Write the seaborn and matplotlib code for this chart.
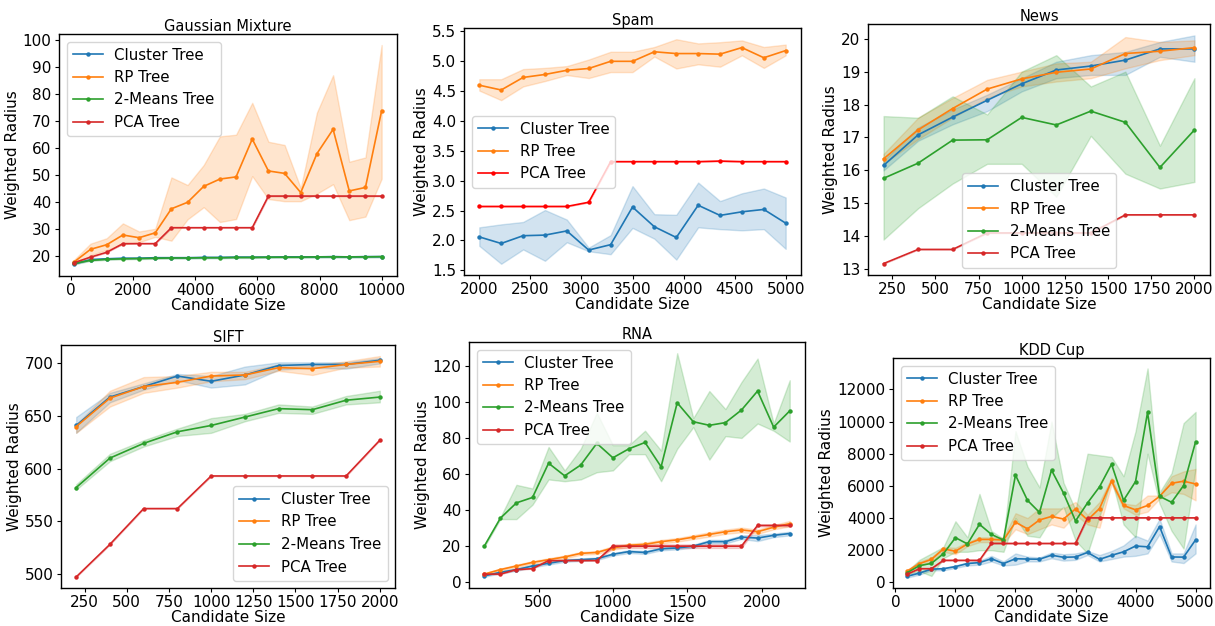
import numpy as np
import pandas as pd
import matplotlib
matplotlib.use("Agg")
import matplotlib.pyplot as plt
from matplotlib.ticker import MultipleLocator
import seaborn as sns

# ---------------- data ----------------
SERIES = ["Cluster Tree", "RP Tree", "2-Means Tree", "PCA Tree"]
TITLES = ["Gaussian Mixture", "Spam", "News", "SIFT", "RNA", "KDD Cup"]
XLABEL = "Candidate Size"
YLABEL = "Weighted Radius"

# Gaussian Mixture
gm_x = [100, 621, 1142, 1663, 2184, 2705, 3226, 3747, 4268, 4789,
        5310, 5831, 6352, 6873, 7394, 7915, 8436, 8957, 9478, 10000]
gm_cluster = [17.0, 18.6, 18.9, 19.1, 19.1, 19.3, 19.3, 19.3, 19.4, 19.4,
              19.5, 19.5, 19.5, 19.6, 19.6, 19.6, 19.7, 19.6, 19.7, 19.7]
gm_cluster_lo = [16.8, 18.4, 18.7, 18.9, 18.9, 19.1, 19.1, 19.1, 19.2, 19.2,
                 19.3, 19.3, 19.3, 19.4, 19.4, 19.4, 19.5, 19.4, 19.5, 19.5]
gm_cluster_hi = [17.2, 18.8, 19.1, 19.3, 19.3, 19.5, 19.5, 19.5, 19.6, 19.6,
                 19.7, 19.7, 19.7, 19.8, 19.8, 19.8, 19.9, 19.8, 19.9, 19.9]
gm_rp = [17.8, 22.4, 24.1, 27.7, 26.7, 28.5, 37.4, 39.8, 45.7, 48.4,
         49.2, 63.2, 51.4, 50.5, 43.4, 57.8, 66.8, 44.0, 45.3, 73.7]
gm_rp_lo = [16.6, 20.2, 22.2, 24.2, 25.0, 27.0, 25.6, 33.5, 38.0, 32.5,
            33.6, 49.5, 41.0, 40.2, 40.2, 43.0, 46.5, 33.2, 34.5, 48.5]
gm_rp_hi = [18.6, 24.5, 26.5, 32.0, 29.0, 30.0, 49.0, 46.2, 53.6, 64.2,
            64.8, 76.6, 62.2, 61.0, 45.0, 73.0, 86.8, 54.8, 56.4, 98.0]
gm_km = [17.2, 18.3, 18.7, 18.9, 19.0, 19.1, 19.2, 19.2, 19.3, 19.3,
         19.4, 19.4, 19.5, 19.5, 19.5, 19.6, 19.6, 19.6, 19.6, 19.7]
gm_km_lo = [17.0, 18.1, 18.5, 18.7, 18.8, 18.9, 19.0, 19.0, 19.1, 19.1,
            19.2, 19.2, 19.3, 19.3, 19.3, 19.4, 19.4, 19.4, 19.4, 19.5]
gm_km_hi = [17.4, 18.5, 18.9, 19.1, 19.2, 19.3, 19.4, 19.4, 19.5, 19.5,
            19.6, 19.6, 19.7, 19.7, 19.7, 19.8, 19.8, 19.8, 19.8, 19.9]
gm_pca = [17.5, 19.5, 21.3, 24.5, 24.5, 24.5, 30.4, 30.4, 30.4, 30.4,
          30.4, 30.4, 42.1, 42.1, 42.1, 42.1, 42.1, 42.1, 42.1, 42.1]

# Spam
sp_x = [2000, 2214, 2429, 2643, 2857, 3071, 3286, 3500, 3714, 3929,
        4143, 4357, 4571, 4786, 5000]
sp_cluster = [2.06, 1.95, 2.08, 2.09, 2.16, 1.84, 1.93, 2.56, 2.23, 2.05,
              2.59, 2.42, 2.48, 2.52, 2.29]
sp_cluster_lo = [1.91, 1.61, 1.85, 1.66, 1.97, 1.82, 1.77, 2.21, 2.03, 1.68,
                 2.22, 2.19, 2.17, 2.19, 1.86]
sp_cluster_hi = [2.22, 2.27, 2.31, 2.51, 2.35, 1.88, 2.09, 2.91, 2.44, 2.43,
                 2.97, 2.66, 2.79, 2.87, 2.72]
sp_rp = [4.60, 4.52, 4.73, 4.78, 4.85, 4.88, 5.00, 5.00, 5.16, 5.13,
         5.13, 5.12, 5.23, 5.06, 5.18]
sp_rp_lo = [4.51, 4.35, 4.58, 4.67, 4.77, 4.72, 4.82, 4.82, 5.08, 4.88,
            4.95, 4.91, 5.10, 4.89, 5.10]
sp_rp_hi = [4.70, 4.70, 4.87, 4.89, 4.92, 5.03, 5.16, 5.16, 5.24, 5.37,
            5.30, 5.32, 5.35, 5.24, 5.28]
sp_pca = [2.57, 2.57, 2.57, 2.57, 2.57, 2.64, 3.32, 3.32, 3.32, 3.32,
          3.32, 3.33, 3.32, 3.32, 3.32]

# News
nw_x = [200, 400, 600, 800, 1000, 1200, 1400, 1600, 1800, 2000]
nw_cluster = [16.15, 17.08, 17.62, 18.13, 18.63, 19.05, 19.17, 19.35, 19.69, 19.69]
nw_cluster_lo = [16.0, 16.9, 17.4, 17.8, 18.4, 18.8, 18.9, 18.9, 19.45, 19.3]
nw_cluster_hi = [16.3, 17.3, 17.85, 18.3, 18.8, 19.3, 19.5, 19.6, 19.9, 20.1]
nw_rp = [16.35, 17.23, 17.88, 18.47, 18.78, 18.98, 19.08, 19.55, 19.62, 19.73]
nw_rp_lo = [16.2, 16.95, 17.6, 18.2, 18.55, 18.7, 18.8, 19.1, 19.35, 19.5]
nw_rp_hi = [16.5, 17.6, 18.2, 18.75, 19.0, 19.25, 19.3, 20.05, 19.9, 19.95]
nw_km = [15.76, 16.22, 16.92, 16.93, 17.61, 17.38, 17.80, 17.46, 16.09, 17.23]
nw_km_lo = [13.9, 14.85, 15.6, 16.2, 16.2, 15.2, 17.05, 15.9, 15.45, 15.65]
nw_km_hi = [17.65, 17.6, 18.25, 17.7, 19.0, 19.5, 18.55, 19.0, 16.75, 18.8]
nw_pca = [13.17, 13.6, 13.6, 14.1, 14.1, 14.1, 14.1, 14.65, 14.65, 14.65]

# SIFT
sf_x = [200, 400, 600, 800, 1000, 1200, 1400, 1600, 1800, 2000]
sf_cluster = [641, 668, 678, 688, 683, 689, 698, 699, 699, 703]
sf_cluster_lo = [634, 663, 675, 684, 677, 680, 694, 696, 695, 700]
sf_cluster_hi = [649, 672, 681, 690, 688, 697, 701, 701, 701, 705]
sf_rp = [640, 667, 678, 682, 688, 689, 696, 695, 699, 702]
sf_rp_lo = [634, 659, 672, 677, 683, 685, 693, 689, 696, 697]
sf_rp_hi = [642, 674, 687, 688, 692, 692, 699, 698, 702, 707]
sf_km = [582, 610, 624, 635, 641, 649, 657, 656, 665, 668]
sf_km_lo = [580, 607, 621, 631, 634, 645, 653, 652, 661, 663]
sf_km_hi = [585, 614, 627, 638, 648, 652, 661, 659, 669, 674]
sf_pca = [497, 528, 562, 562, 593, 593, 593, 593, 593, 627]

# RNA
rn_x = [135, 243, 351, 459, 567, 675, 783, 891, 999, 1107,
        1215, 1323, 1431, 1539, 1647, 1755, 1863, 1971, 2079, 2187]
rn_cluster = [3.5, 5.5, 7.0, 9.0, 10.5, 12.0, 12.5, 13.0, 15.5, 17.0,
              16.5, 18.5, 19.0, 20.0, 22.5, 22.5, 25.0, 24.5, 26.0, 27.0]
rn_cluster_lo = [3.0, 5.0, 6.3, 8.3, 9.8, 11.3, 11.8, 12.3, 14.8, 16.2,
                 15.7, 17.7, 18.2, 19.2, 21.5, 21.5, 24.0, 22.8, 25.0, 26.0]
rn_cluster_hi = [4.0, 6.0, 7.7, 9.7, 11.2, 12.7, 13.2, 13.7, 16.2, 17.8,
                 17.3, 19.3, 19.8, 20.8, 23.5, 23.5, 26.0, 26.2, 27.0, 28.0]
rn_rp = [4.5, 7.0, 9.0, 11.0, 12.5, 14.0, 16.0, 16.5, 19.0, 20.5,
         21.0, 22.5, 23.5, 25.0, 26.5, 28.0, 29.0, 28.0, 30.5, 32.5]
rn_rp_lo = [4.0, 6.4, 8.3, 10.3, 11.7, 13.2, 15.2, 15.7, 18.0, 19.6,
            20.0, 21.5, 22.5, 23.9, 25.3, 26.8, 27.7, 26.8, 29.3, 31.0]
rn_rp_hi = [5.0, 7.6, 9.7, 11.7, 13.3, 14.8, 16.8, 17.3, 20.0, 21.4,
            22.0, 23.5, 24.5, 26.1, 27.7, 29.2, 30.3, 29.2, 31.7, 34.0]
rn_km = [20.0, 35.5, 44.0, 47.0, 66.0, 59.0, 65.0, 77.0, 69.0, 74.0,
         77.5, 64.0, 99.5, 89.0, 87.0, 88.5, 95.5, 106.0, 86.0, 95.0]
rn_km_lo = [19.5, 35.0, 35.0, 43.0, 57.0, 56.0, 57.0, 61.0, 62.0, 71.0,
            71.0, 56.0, 74.0, 86.0, 68.0, 81.0, 80.0, 88.0, 84.0, 78.0]
rn_km_hi = [20.5, 36.0, 54.0, 52.0, 75.0, 62.0, 74.0, 94.0, 76.0, 76.0,
            84.0, 73.0, 127.0, 91.0, 106.0, 96.0, 111.0, 124.0, 88.0, 112.0]
rn_pca = [4.5, 4.5, 7.0, 7.5, 12.0, 12.0, 12.0, 12.0, 20.0, 20.0,
          20.0, 20.0, 20.0, 20.0, 20.0, 20.0, 20.0, 31.5, 31.5, 31.5]
rn_pca_lo = [4.5, 4.5, 7.0, 7.5, 12.0, 12.0, 12.0, 12.0, 19.0, 19.0,
             19.0, 19.0, 19.0, 19.0, 19.0, 19.0, 19.0, 31.0, 31.0, 31.0]
rn_pca_hi = [4.5, 4.5, 7.0, 7.5, 12.0, 12.0, 12.0, 12.0, 21.0, 21.0,
             21.0, 21.0, 21.0, 21.0, 21.0, 21.0, 21.0, 32.0, 32.0, 32.0]

# KDD Cup
kd_x = [200, 400, 600, 800, 1000, 1200, 1400, 1600, 1800, 2000,
        2200, 2400, 2600, 2800, 3000, 3200, 3400, 3600, 3800, 4000,
        4200, 4400, 4600, 4800, 5000]
kd_cluster = [380, 580, 820, 850, 980, 1170, 1230, 1470, 1170, 1470,
              1450, 1440, 1690, 1560, 1580, 1860, 1430, 1680, 1900, 2260,
              2210, 3470, 1580, 1570, 2640]
kd_cluster_lo = [300, 480, 750, 750, 900, 1050, 1100, 1300, 1050, 1100,
                 1300, 1300, 1500, 1350, 1400, 1700, 1300, 1450, 1600, 1650,
                 1800, 3000, 1300, 1200, 1800]
kd_cluster_hi = [450, 650, 870, 900, 1050, 1250, 1350, 1650, 1300, 1800,
                 1600, 1550, 1850, 1750, 1800, 1950, 1700, 1950, 2300, 2900,
                 2600, 3950, 1800, 1800, 3600]
kd_rp = [710, 1160, 1430, 2080, 1940, 2390, 2670, 2670, 2630, 3740,
         3330, 3880, 4100, 3940, 4570, 3880, 4590, 6300, 4780, 4510,
         4780, 5350, 6160, 6290, 6120]
kd_rp_lo = [600, 1000, 1300, 1900, 1750, 2250, 2500, 2500, 2450, 3300,
            3000, 3300, 3600, 3400, 4200, 3600, 3400, 6100, 4600, 4200,
            4400, 5200, 5600, 5500, 5100]
kd_rp_hi = [800, 1300, 1550, 2200, 2150, 2500, 2800, 2800, 2800, 4300,
            4000, 4600, 4600, 4600, 5000, 4200, 5000, 6500, 4900, 4800,
            5400, 5400, 6600, 6900, 7050]
kd_km = [610, 1040, 1180, 1780, 2780, 2390, 3610, 2980, 2630, 6670,
         5100, 4350, 6980, 5550, 3820, 4940, 5940, 7350, 5100, 6270,
         10570, 5350, 4980, 6020, 8740]
kd_km_lo = [500, 700, 400, 1500, 1900, 1900, 2000, 2000, 1900, 4000,
            2900, 2800, 4000, 4700, 2600, 1800, 4100, 6400, 3600, 2800,
            8000, 4900, 3200, 2100, 7100]
kd_km_hi = [700, 1400, 1800, 2200, 3800, 2800, 5500, 3200, 2700, 9400,
            7200, 5900, 10000, 6200, 4500, 8000, 7900, 7800, 6600, 9400,
            13300, 5600, 6800, 9900, 10600]
kd_pca = [510, 850, 850, 1370, 1370, 1370, 1370, 2420, 2420, 2420,
          2420, 2420, 2420, 2420, 2420, 4010, 4010, 4010, 4010, 4010,
          4010, 4010, 4010, 4010, 4010]

# ---------------- style ----------------
plt.rcParams.update({
    "font.family": ["DejaVu Sans"],
    "font.size": 11,
    "xtick.labelsize": 11,
    "ytick.labelsize": 11,
    "axes.labelsize": 11,
    "axes.titlesize": 10.5,
    "axes.titlepad": 2.5,
    "legend.fontsize": 10.8,
    "axes.linewidth": 1.0,
    "xtick.major.size": 3.0,
    "ytick.major.size": 3.0,
    "xtick.major.pad": 2.0,
    "ytick.major.pad": 2.5,
    "axes.labelpad": 2.0,
})

BLUE, ORANGE, GREEN, RED = "#1f77b4", "#ff7f0e", "#2ca02c", "#d62728"

W, H = 1215, 626
fig = plt.figure(figsize=(W / 100, H / 100), dpi=100)


def make_ax(left, right, top, bottom):
    return fig.add_axes([left / W, 1 - bottom / H, (right - left) / W, (bottom - top) / H])


def draw(ax, x, mean, lo, hi, color, label):
    df = pd.DataFrame({
        "x": np.tile(np.asarray(x, dtype=float), 3),
        "y": np.concatenate([np.asarray(lo, float), np.asarray(mean, float),
                             np.asarray(hi, float)]),
    })
    sns.lineplot(data=df, x="x", y="y", estimator="median", errorbar=("pi", 100),
                 color=color, label=label, marker="o", markersize=3.2,
                 markeredgewidth=0, linewidth=1.2, ax=ax)


def finish(ax, title, loc, xstep, ystep):
    ax.set_title(title)
    ax.set_xlabel(XLABEL, labelpad=0)
    ax.set_ylabel(YLABEL)
    ax.xaxis.set_major_locator(MultipleLocator(xstep))
    ax.yaxis.set_major_locator(MultipleLocator(ystep))
    ax.legend(loc=loc, handlelength=2.0)


# Gaussian Mixture
ax = make_ax(59, 397, 34, 276)
draw(ax, gm_x, gm_cluster, gm_cluster_lo, gm_cluster_hi, BLUE, SERIES[0])
draw(ax, gm_x, gm_rp, gm_rp_lo, gm_rp_hi, ORANGE, SERIES[1])
draw(ax, gm_x, gm_km, gm_km_lo, gm_km_hi, GREEN, SERIES[2])
draw(ax, gm_x, gm_pca, gm_pca, gm_pca, RED, SERIES[3])
finish(ax, TITLES[0], "upper left", 2000, 10)

# Spam
ax = make_ax(464, 801, 28, 275)
draw(ax, sp_x, sp_cluster, sp_cluster_lo, sp_cluster_hi, BLUE, SERIES[0])
draw(ax, sp_x, sp_rp, sp_rp_lo, sp_rp_hi, ORANGE, SERIES[1])
draw(ax, sp_x, sp_pca, sp_pca, sp_pca, "red", SERIES[3])
finish(ax, TITLES[1], "center left", 500, 0.5)

# News
ax = make_ax(868, 1210, 24, 275)
draw(ax, nw_x, nw_cluster, nw_cluster_lo, nw_cluster_hi, BLUE, SERIES[0])
draw(ax, nw_x, nw_rp, nw_rp_lo, nw_rp_hi, ORANGE, SERIES[1])
draw(ax, nw_x, nw_km, nw_km_lo, nw_km_hi, GREEN, SERIES[2])
draw(ax, nw_x, nw_pca, nw_pca, nw_pca, RED, SERIES[3])
finish(ax, TITLES[2], "lower center", 250, 1)

# SIFT
ax = make_ax(61, 395, 345, 588)
draw(ax, sf_x, sf_cluster, sf_cluster_lo, sf_cluster_hi, BLUE, SERIES[0])
draw(ax, sf_x, sf_rp, sf_rp_lo, sf_rp_hi, ORANGE, SERIES[1])
draw(ax, sf_x, sf_km, sf_km_lo, sf_km_hi, GREEN, SERIES[2])
draw(ax, sf_x, sf_pca, sf_pca, sf_pca, RED, SERIES[3])
finish(ax, TITLES[3], "lower right", 250, 50)

# RNA
ax = make_ax(469, 805, 342, 588)
draw(ax, rn_x, rn_cluster, rn_cluster_lo, rn_cluster_hi, BLUE, SERIES[0])
draw(ax, rn_x, rn_rp, rn_rp_lo, rn_rp_hi, ORANGE, SERIES[1])
draw(ax, rn_x, rn_km, rn_km_lo, rn_km_hi, GREEN, SERIES[2])
draw(ax, rn_x, rn_pca, rn_pca_lo, rn_pca_hi, RED, SERIES[3])
finish(ax, TITLES[4], "upper left", 500, 20)

# KDD Cup
ax = make_ax(893, 1210, 358, 588)
draw(ax, kd_x, kd_cluster, kd_cluster_lo, kd_cluster_hi, BLUE, SERIES[0])
draw(ax, kd_x, kd_rp, kd_rp_lo, kd_rp_hi, ORANGE, SERIES[1])
draw(ax, kd_x, kd_km, kd_km_lo, kd_km_hi, GREEN, SERIES[2])
draw(ax, kd_x, kd_pca, kd_pca, kd_pca, RED, SERIES[3])
finish(ax, TITLES[5], "upper left", 1000, 2000)

fig.savefig("out.png", dpi=100)
